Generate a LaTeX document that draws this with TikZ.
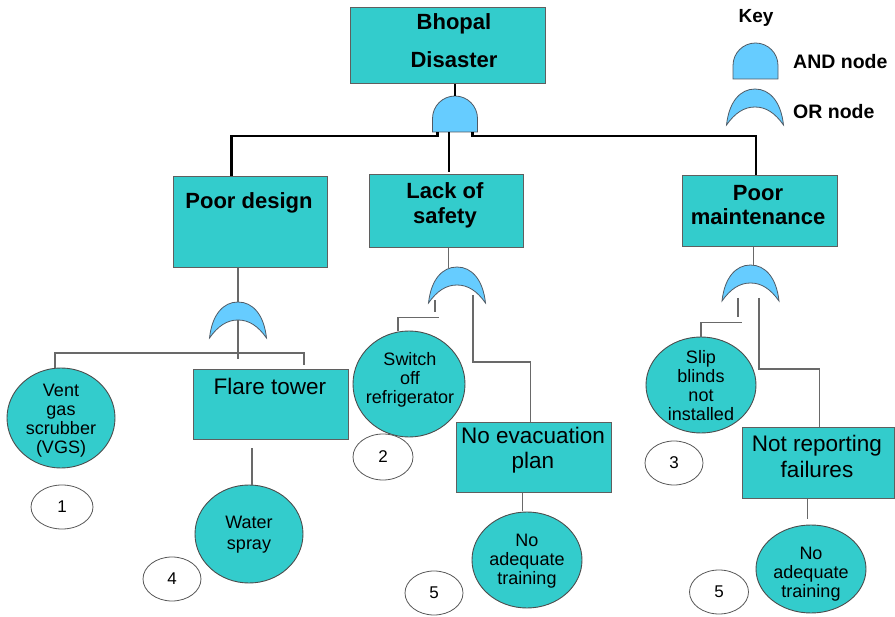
\documentclass[tikz,border=0pt]{standalone}
\usepackage{fontspec}
\setmainfont{Liberation Sans}
\usetikzlibrary{shapes.geometric,calc}
\definecolor{tealfill}{RGB}{51,204,204}
\definecolor{gatec}{RGB}{102,204,255}
\definecolor{boxline}{RGB}{95,95,95}
\definecolor{connc}{RGB}{105,105,105}
\definecolor{gateline}{RGB}{80,90,100}
\begin{document}
\begin{tikzpicture}[x=1pt,y=-1pt,
  box/.style={draw=boxline,line width=1pt,fill=tealfill,rectangle,inner sep=0,anchor=north west},
  circ/.style={draw=gray!60!black,line width=0.9pt,fill=tealfill,ellipse,inner sep=0},
  lab/.style={draw=gray!70!black,line width=0.8pt,fill=white,ellipse,inner sep=0,font=\fontsize{17}{17}\selectfont},
  bt/.style={font=\fontsize{22}{25}\selectfont\bfseries,align=center,inner sep=0},
  nt/.style={font=\fontsize{22.5}{25}\selectfont,align=center,inner sep=0},
  ct/.style={font=\fontsize{18}{19}\selectfont,align=center,inner sep=0},
  kt/.style={font=\fontsize{19}{19}\selectfont\bfseries,inner sep=0},
  conn/.style={draw=connc,line width=1.3pt},
  bus/.style={draw=black,line width=2.4pt},
  gatefill/.style={fill=gatec,draw=gateline,line width=0.8pt},
  andgate/.pic={
    \path[gatefill] (-22.5,36) -- (-22.5,22.5) arc[start angle=180,end angle=0,radius=22.5pt] -- (22.5,36) -- cycle;
    \coordinate (-t) at (0,0);
    \coordinate (-b) at (0,36);
    \coordinate (-bl) at (-22.5,36);
    \coordinate (-br) at (22.5,36);
  },
  orgate/.pic={
    \path[gatefill] (-28.5,36) .. controls (-26,13) and (-15,0) .. (0,0)
      .. controls (15,0) and (26,13) .. (28.5,36)
      .. controls (20,24) and (11,18) .. (0,18)
      .. controls (-11,18) and (-20,24) .. (-28.5,36) -- cycle;
    \coordinate (-t) at (0,0);
    \coordinate (-ia) at (0,18);
  },
]
\useasboundingbox (0,0) rectangle (895,617);

% boxes
\node[box,minimum width=195pt,minimum height=76pt] (bd) at (350,7) {};
\node[box,minimum width=154pt,minimum height=91pt] (pd) at (173,176) {};
\node[box,minimum width=154pt,minimum height=73pt] (ls) at (369,174) {};
\node[box,minimum width=155pt,minimum height=71pt] (pm) at (682,175) {};
\node[box,minimum width=155pt,minimum height=70pt] (ft) at (193,369) {};
\node[box,minimum width=155pt,minimum height=70pt] (ne) at (456,422) {};
\node[box,minimum width=152pt,minimum height=71pt] (nr) at (742,427) {};

% box texts
\node[bt,font=\fontsize{22}{38}\selectfont\bfseries] (bdT) at (454,41) {Bhopal\\Disaster};
\node[bt] (pdT) at (249,203) {Poor design};
\node[bt] (lsT) at (445,205) {Lack of\\safety};
\node[bt,font=\fontsize{22}{24}\selectfont\bfseries] (pmT) at (758,205) {Poor\\maintenance};
\node[nt] (ftT) at (270,386) {Flare tower};
\node[nt] (neT) at (533,450) {No evacuation\\plan};
\node[nt,font=\fontsize{22.5}{26}\selectfont] (nrT) at (817,456) {Not reporting\\failures};

% event circles
\node[circ,minimum width=108pt,minimum height=100pt] (vgs) at (61,418) {};
\node[circ,minimum width=112pt,minimum height=106pt] (sw) at (409,384) {};
\node[circ,minimum width=110pt,minimum height=96pt] (sb) at (701,385) {};
\node[circ,minimum width=108pt,minimum height=98pt] (ws) at (249,534) {};
\node[circ,minimum width=110pt,minimum height=96pt] (nt1) at (527,560) {};
\node[circ,minimum width=110pt,minimum height=88pt] (nt2) at (811,569) {};

\node[ct] (vgsT) at (61,421) {Vent\\gas\\scrubber\\(VGS)};
\node[ct] (swT) at (410,380) {Switch\\off\\refrigerator};
\node[ct] (sbT) at (701,386) {Slip\\blinds\\not\\installed};
\node[ct,font=\fontsize{18}{21}\selectfont] (wsT) at (249,535) {Water\\spray};
\node[ct] (nt1T) at (527,561) {No\\adequate\\training};
\node[ct] (nt2T) at (811,574) {No\\adequate\\training};

% number labels
\node[lab,minimum width=62pt,minimum height=44pt] (l1) at (62,507) {1};
\node[lab,minimum width=60pt,minimum height=46pt] (l2) at (383,457) {2};
\node[lab,minimum width=58pt,minimum height=44pt] (l3) at (674,463) {3};
\node[lab,minimum width=58pt,minimum height=44pt] (l4) at (172,579) {4};
\node[lab,minimum width=58pt,minimum height=44pt] (l5a) at (434,593) {5};
\node[lab,minimum width=59pt,minimum height=44pt] (l5b) at (719,592) {5};

% gates
\pic (and1) at (455,96) {andgate};
\pic (g1) at (238,302) {orgate};
\pic (g2) at (457,267) {orgate};
\pic (g3) at (750.5,265) {orgate};

% top connectors
\draw[bus,line width=2pt] (and1-t |- bd.south) -- (and1-t);
\draw[bus] ([xshift=-19pt]pd.north) |- ([xshift=5pt,yshift=-4pt]and1-bl) -- ([xshift=5pt]and1-bl);
\draw[bus] ($(and1-b)+(-6,0)$) -- ($(and1-b |- ls.north)+(-6,-2)$);
\draw[bus] ([xshift=-5pt]and1-br) -- ++(0,4) -| ([xshift=-4pt]pm.north);

% poor design branch
\draw[conn] (g1-t |- pd.south) -- (g1-t);
\draw[conn] (g1-ia) -- ++(0,39);
\draw[conn] ([xshift=-6pt]vgs.north) |- ($(g1-ia)+(66,33)$) -- ++(0,12);
\draw[conn] ([xshift=3pt]ws.north) -- ++(0,-37);

% lack of safety branch
\draw[conn] ([xshift=2pt]ls.south) -- ++(0,20);
\draw[conn] ($(g2-t)+(-22,33)$) -- ++(0,12);
\draw[conn] ([xshift=-11pt]sw.north) |- ++(41,-13);
\draw[conn] ($(g2-t)+(16,28)$) |- ($(ne.north)+(-3.5,-60)$) -- ($(ne.north)+(-3.5,0)$);
\draw[conn] ([xshift=-11.5pt]ne.south) -- ++(0,18);

% poor maintenance branch
\draw[conn] ([xshift=-6.5pt]pm.south) -- ++(0,19);
\draw[conn] ($(g3-t)+(-12.5,33)$) -- ++(0,19);
\draw[conn] (sb.north) |- ++(41,-14);
\draw[conn] ($(g3-t)+(8.5,33)$) |- ($(nr.north)+(1,-58)$) -- ($(nr.north)+(1,0)$);
\draw[conn] ([xshift=-11pt]nr.south) -- ++(0,20);

% key
\node[kt] (key) at (756,18) {Key};
\pic (kand) at (755.5,43) {andgate};
\pic (kor) at (755,89) {orgate};
\node[kt,anchor=west,font=\fontsize{19.5}{19.5}\selectfont\bfseries] (kandT) at (793,62) {AND node};
\node[kt,anchor=west,font=\fontsize{19.5}{19.5}\selectfont\bfseries] (korT) at (793,112) {OR node};
\end{tikzpicture}
\end{document}
